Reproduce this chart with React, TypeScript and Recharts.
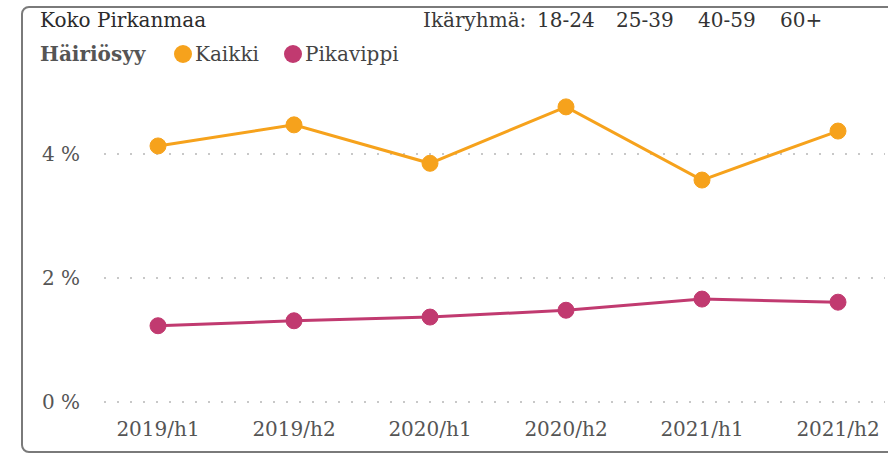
import { LineChart, Line, XAxis, YAxis, CartesianGrid } from "recharts";

const periods = ["2019/h1", "2019/h2", "2020/h1", "2020/h2", "2021/h1", "2021/h2"];
const kaikki = [4.13, 4.47, 3.85, 4.76, 3.58, 4.37];
const pikavippi = [1.23, 1.31, 1.37, 1.48, 1.66, 1.61];
const yTicks = [0, 2, 4];
const ageGroups = ["18-24", "25-39", "40-59", "60+"];

const ORANGE = "#F6A21C";
const MAGENTA = "#C13A70";
const FONT = "'DejaVu Serif', serif";

const data = periods.map((p, i) => ({ period: p, Kaikki: kaikki[i], Pikavippi: pikavippi[i] }));

const agePos = [537, 616, 698, 780];

const txt = (left: number, top: number, color: string, bold = false) => ({
  position: "absolute" as const,
  left,
  top,
  fontSize: 20,
  lineHeight: "24px",
  color,
  fontFamily: FONT,
  fontWeight: bold ? ("bold" as const) : ("normal" as const),
  whiteSpace: "nowrap" as const,
});

export default function App() {
  return (
    <div style={{ position: "absolute", left: 0, top: 0, width: 888, height: 456, overflow: "hidden", background: "#fff" }}>
      <div
        style={{
          position: "absolute",
          left: 21,
          top: 6,
          width: 900,
          height: 447,
          border: "2px solid #7a7a7a",
          borderRadius: 8,
          boxSizing: "border-box",
        }}
      />
      <div style={txt(40, 8, "#2b2b2b")}>Koko Pirkanmaa</div>
      <div style={txt(423, 8, "#3a3a3a")}>Ikäryhmä:</div>
      {ageGroups.map((g, i) => (
        <div key={g} style={txt(agePos[i], 8, "#333")}>
          {g}
        </div>
      ))}
      <div style={txt(40, 42, "#555", true)}>Häiriösyy</div>
      <div style={{ position: "absolute", left: 174, top: 45, width: 18, height: 18, borderRadius: "50%", background: ORANGE }} />
      <div style={txt(195, 42, "#444")}>Kaikki</div>
      <div style={{ position: "absolute", left: 284, top: 45, width: 18, height: 18, borderRadius: "50%", background: MAGENTA }} />
      <div style={txt(305, 42, "#444")}>Pikavippi</div>
      <div style={{ position: "absolute", left: 0, top: 0 }}>
        <LineChart width={888} height={456} data={data} margin={{ top: 30, right: 3, bottom: 24, left: 0 }}>
          <CartesianGrid vertical={false} stroke="#c8c8c8" strokeDasharray="2 11" strokeWidth={2} syncWithTicks />
          <XAxis
            dataKey="period"
            axisLine={false}
            tickLine={false}
            padding={{ left: 54, right: 47 }}
            height={30}
            tickMargin={14}
            tick={{ fontSize: 20, fill: "#555", fontFamily: FONT }}
          />
          <YAxis
            domain={[0, 6]}
            ticks={yTicks}
            width={104}
            axisLine={false}
            tickLine={false}
            tickMargin={18}
            tickFormatter={(v: number) => `${v} %`}
            tick={{ fontSize: 20, fill: "#555", fontFamily: FONT }}
          />
          <Line
            dataKey="Kaikki"
            stroke={ORANGE}
            strokeWidth={3}
            dot={{ r: 8, fill: ORANGE, stroke: ORANGE, strokeWidth: 1 }}
            isAnimationActive={false}
          />
          <Line
            dataKey="Pikavippi"
            stroke={MAGENTA}
            strokeWidth={3}
            dot={{ r: 8, fill: MAGENTA, stroke: MAGENTA, strokeWidth: 1 }}
            isAnimationActive={false}
          />
        </LineChart>
      </div>
    </div>
  );
}
